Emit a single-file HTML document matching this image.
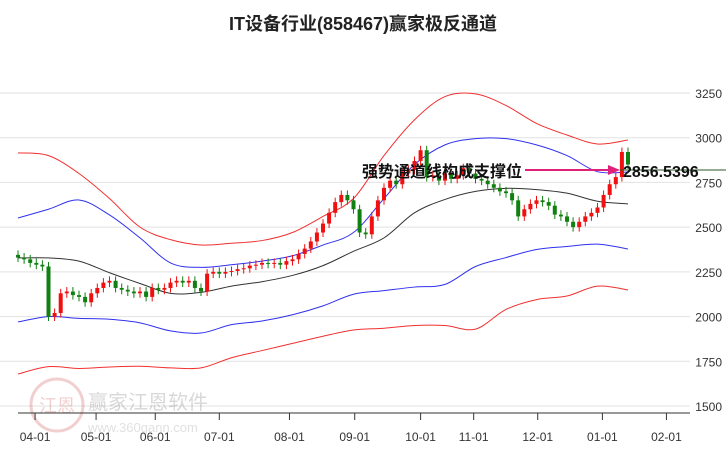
<!DOCTYPE html>
<html><head><meta charset="utf-8"><style>
body{margin:0;background:#fff;}
svg{display:block;font-family:"Liberation Sans","Noto Sans CJK SC",sans-serif;}
</style></head><body>
<svg id="c" width="726" height="450" viewBox="0 0 726 450" xmlns="http://www.w3.org/2000/svg">
<text x="363" y="30" text-anchor="middle" font-size="18" font-weight="bold" fill="#222">IT设备行业(858467)赢家极反通道</text>
<g id="grid"></g>
<g opacity="0.25">
<circle cx="57" cy="405" r="26" fill="none" stroke="#c44" stroke-width="3"/>
<text x="57" y="412" text-anchor="middle" font-size="18" fill="#c44">江恩</text>
<text x="88" y="409" font-size="20" fill="#666">赢家江恩软件</text>
<text x="88" y="432" font-size="13" fill="#888">www.360gann.com</text>
</g>
<g id="bands"></g>
<g id="candles"></g>
<g id="axes"></g>
<line x1="620" y1="170" x2="726" y2="170" stroke="#2a5a2a" stroke-width="1"/>
<line x1="525" y1="170" x2="612" y2="170" stroke="#e0207a" stroke-width="2"/>
<polygon points="620,170 608,165 608,175" fill="#e0207a"/>
<text x="362" y="177" font-size="16" font-weight="bold" fill="#111">强势通道线构成支撑位</text>
<text x="623" y="177" font-size="16" font-weight="bold" fill="#111">2856.5396</text>
</svg>
<script>
const yTicks=[3250,3000,2750,2500,2250,2000,1750,1500];
const months=["04-01","05-01","06-01","07-01","08-01","09-01","10-01","11-01","12-01","01-01","02-01"];
const monthIdx=[2.8,12.8,22.5,33,44.5,55.2,66,74.7,85.2,95.8,106.3];
const closes=[2330,2320,2300,2290,2280,2000,2020,2130,2140,2120,2110,2080,2130,2160,2190,2200,2160,2150,2140,2130,2140,2110,2160,2150,2160,2190,2200,2190,2200,2160,2140,2240,2250,2240,2250,2255,2265,2270,2285,2290,2300,2295,2300,2290,2310,2320,2350,2380,2420,2470,2520,2580,2640,2680,2650,2600,2470,2460,2560,2650,2720,2760,2740,2800,2820,2870,2930,2780,2790,2760,2800,2770,2790,2830,2800,2770,2760,2740,2720,2700,2690,2650,2560,2600,2630,2650,2640,2620,2570,2560,2530,2500,2530,2560,2580,2610,2680,2740,2780,2920,2850];
const opens=[2345].concat(closes.slice(0,-1));
const mid=[2328,2328,2310,2245,2185,2130,2135,2170,2195,2230,2285,2365,2440,2580,2655,2700,2717,2710,2690,2645,2630];
const upBlue=[2551,2600,2652,2568,2440,2300,2275,2290,2310,2340,2400,2470,2660,2850,2960,2995,2995,2960,2900,2810,2808];
const loBlue=[1970,2000,1990,1985,1965,1920,1908,1955,1975,2010,2060,2125,2145,2165,2180,2280,2330,2375,2392,2405,2378];
const upRed=[2915,2900,2800,2660,2500,2430,2400,2410,2425,2470,2560,2660,2900,3100,3230,3245,3180,3080,3015,2965,2987];
const loRed=[1679,1720,1710,1718,1722,1713,1713,1770,1810,1850,1890,1925,1935,1950,1950,1930,2040,2095,2115,2170,2149];
const bandStep=5;
const NS="http://www.w3.org/2000/svg";
const X=i=>18+i*6.1, Y=v=>93+(3250-v)*0.17886;
function mk(t,a,p){const e=document.createElementNS(NS,t);for(const k in a)e.setAttribute(k,a[k]);p.appendChild(e);return e;}
function smooth(pts){let d='M'+pts[0][0]+','+pts[0][1];
 for(let i=0;i<pts.length-1;i++){const p0=pts[Math.max(0,i-1)],p1=pts[i],p2=pts[i+1],p3=pts[Math.min(pts.length-1,i+2)];
 d+=' C'+(p1[0]+(p2[0]-p0[0])/6)+','+(p1[1]+(p2[1]-p0[1])/6)+' '+(p2[0]-(p3[0]-p1[0])/6)+','+(p2[1]-(p3[1]-p1[1])/6)+' '+p2[0]+','+p2[1];}
 return d;}
const g=document.getElementById('grid'),b=document.getElementById('bands'),cd=document.getElementById('candles'),ax=document.getElementById('axes');
yTicks.forEach(v=>{
 const l=mk('line',{x1:0,x2:690,y1:Y(v),y2:Y(v),stroke:'#e2e2e2'},g);
 
 
 const t=mk('text',{x:722,y:Y(v)+5,'text-anchor':'end','font-size':12,fill:'#333'},ax);
 t.textContent=v;
 
 
});
[[upRed,'#f03030'],[upBlue,'#3030f0'],[mid,'#333'],[loBlue,'#3030f0'],[loRed,'#f03030']].forEach(([arr,c])=>{
 const p=mk('path',{d:smooth(arr.map((v,k)=>[X(k*bandStep),Y(v)])),fill:'none',stroke:c,'stroke-width':1},b);
 
 
});
closes.forEach((c,i)=>{
 const o=opens[i],col=c>=o?'#f01010':'#108010',x=X(i);
 const hi=Math.max(o,c),lo=Math.min(o,c);
 const w=mk('line',{x1:x,x2:x,y1:Y(hi+25),y2:Y(lo-25),stroke:col},cd);
 
 
 const r=mk('rect',{x:x-2,y:Y(hi),width:4,height:Math.max(1,Y(lo)-Y(hi)),fill:col},cd);
 
 
});
const a=mk('line',{x1:18,x2:690,y1:413,y2:413,stroke:'#333'},ax);


months.forEach((m,k)=>{
 const x=X(monthIdx[k]);
 const tk=mk('line',{x1:x,x2:x,y1:413,y2:420,stroke:'#333'},ax);
 
 
 const t=mk('text',{x:x,y:441,'text-anchor':'middle','font-size':12,fill:'#333'},ax);
 t.textContent=m;
 
 
});
</script>
</body></html>
